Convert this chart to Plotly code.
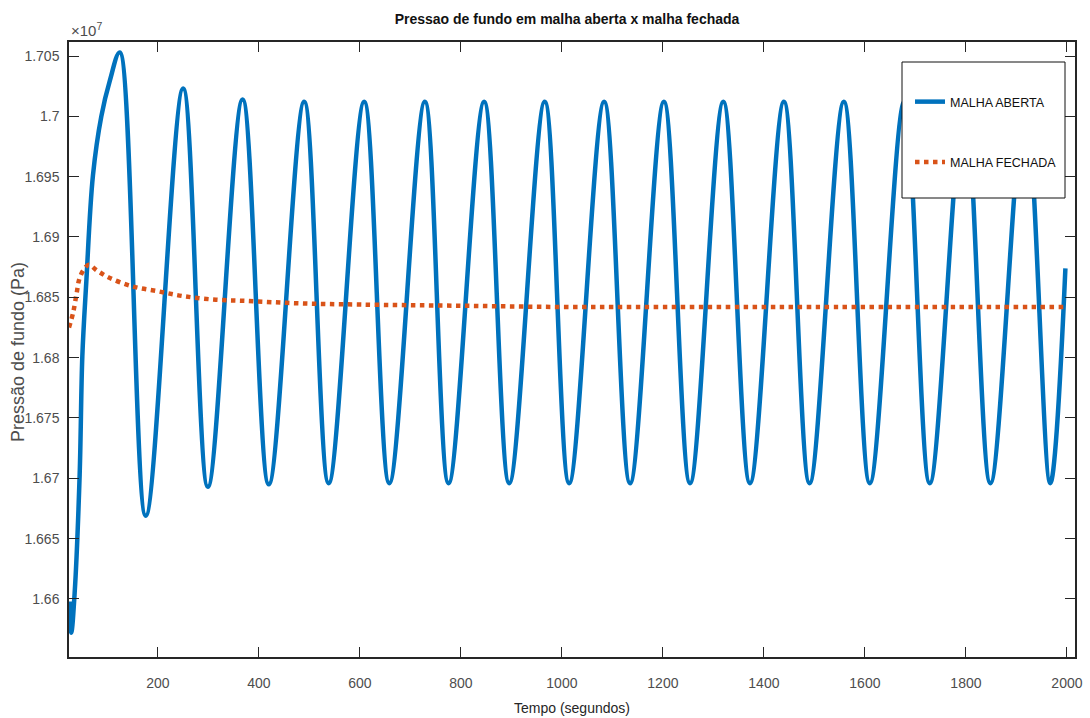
import plotly.graph_objects as go

# ---- data (pressure in units of 1e7 Pa) ----
t_aberta = [25.3, 28.6, 35.2, 45.1, 50.4, 58.3, 71.4, 88.0, 104.5, 124.5,
            176.0, 250.0, 299.0, 367.7, 419.6, 489.7, 538.2, 608.5, 658.3, 728.7,
            775.6, 846.0, 895.7, 966.0, 1014.4, 1083.6, 1135.0, 1202.0, 1253.7, 1319.6,
            1372.4, 1439.6, 1490.4, 1558.3, 1609.7, 1678.0, 1728.4, 1797.0, 1848.5, 1917.0,
            1967.0, 1997.0]
p_aberta = [1.6598, 1.6572, 1.6605, 1.6703, 1.6801, 1.6863, 1.6951, 1.7000, 1.7029, 1.7053,
            1.6669, 1.7023, 1.6693, 1.7014, 1.6695, 1.7012, 1.6696, 1.7012, 1.6696, 1.7012,
            1.6696, 1.7012, 1.6696, 1.7012, 1.6696, 1.7012, 1.6696, 1.7012, 1.6696, 1.7012,
            1.6696, 1.7012, 1.6696, 1.7012, 1.6696, 1.7012, 1.6696, 1.7012, 1.6696, 1.7012,
            1.6696, 1.6874]

t_fechada = [24, 32, 39, 45, 55, 63, 80, 105, 150, 200, 250, 315, 375, 480, 600,
             800, 1000, 1200, 1500, 2000]
p_fechada = [1.6825, 1.6837, 1.6853, 1.6866, 1.6874, 1.6877, 1.6872, 1.6866, 1.6859, 1.6855,
             1.6851, 1.6848, 1.6847, 1.6845, 1.6844, 1.6843, 1.6842, 1.6842, 1.6842, 1.6842]

x_ticks = [200, 400, 600, 800, 1000, 1200, 1400, 1600, 1800, 2000]
y_ticks = [1.66, 1.665, 1.67, 1.675, 1.68, 1.685, 1.69, 1.695, 1.70, 1.705]
y_tick_text = ["1.66", "1.665", "1.67", "1.675", "1.68", "1.685", "1.69", "1.695", "1.7", "1.705"]

FONT = "Liberation Sans"
AXC = "#262626"
TXC = "#4d4d4d"

fig = go.Figure()
fig.add_trace(go.Scatter(x=t_aberta, y=p_aberta, mode="lines", name="MALHA ABERTA",
                         legendgroup="a",
                         line=dict(color="#0072BD", width=4.5, shape="spline", smoothing=1.0)))
fig.add_trace(go.Scatter(x=t_fechada, y=p_fechada, mode="lines", name="MALHA FECHADA",
                         legendgroup="b",
                         line=dict(color="#D95319", width=4.5, dash="dot", shape="spline", smoothing=1.0)))

W, H = 1090, 718
L, R, T, B = 69, 1075, 42, 657

def px(xp):
    return (xp - L) / (R - L)

def py(yp):
    return (B - yp) / (B - T)

fig.update_layout(
    width=W, height=H,
    margin=dict(l=L, r=W - R, t=T, b=H - B, autoexpand=False),
    paper_bgcolor="white", plot_bgcolor="white",
    font=dict(family=FONT, color=TXC, size=14),
    title=dict(text="<b>Pressao de fundo em malha aberta x malha fechada</b>",
               x=567 / W, xanchor="center", y=1 - 19 / H, yanchor="middle",
               font=dict(family=FONT, size=14, color="#111111")),
    showlegend=True,
    legend=dict(x=px(910), y=py(87), xanchor="left", yanchor="top",
                bgcolor="rgba(0,0,0,0)", borderwidth=0,
                traceorder="grouped", tracegroupgap=41,
                font=dict(family=FONT, size=12.5, color="#111111")),
    shapes=[dict(type="rect", xref="paper", yref="paper",
                 x0=px(902), x1=px(1065), y0=py(198), y1=py(62),
                 fillcolor="white", line=dict(color="#111111", width=1), layer="above")],
    annotations=[
        dict(text="×10<sup>7</sup>", xref="paper", yref="paper", x=px(69), y=py(30),
             xanchor="left", yanchor="middle", showarrow=False,
             font=dict(family=FONT, size=15, color=TXC)),
        dict(text="Pressão de fundo (Pa)", xref="paper", yref="paper", x=px(18), y=py(352),
             xanchor="center", yanchor="middle", textangle=-90, showarrow=False,
             font=dict(family=FONT, size=18, color=TXC)),
        dict(text="Tempo (segundos)", xref="paper", yref="paper", x=px(572), y=py(708),
             xanchor="center", yanchor="middle", showarrow=False,
             font=dict(family=FONT, size=14, color=AXC)),
    ],
)

fig.update_xaxes(range=[24, 2016], tickvals=x_ticks, ticks="inside", ticklen=10,
                 tickcolor=AXC, tickwidth=1, showline=True, linecolor=AXC, linewidth=1.5,
                 mirror="ticks", showgrid=False, zeroline=False, ticklabelstandoff=12,
                 tickfont=dict(family=FONT, size=14, color=TXC))
fig.update_yaxes(range=[1.65519, 1.70616], tickvals=y_ticks, ticktext=y_tick_text,
                 ticks="inside", ticklen=10, tickcolor=AXC, tickwidth=1,
                 showline=True, linecolor=AXC, linewidth=1.5, mirror="ticks",
                 showgrid=False, zeroline=False, ticklabelstandoff=5,
                 tickfont=dict(family=FONT, size=14, color=TXC))

fig.write_html("out.html")
